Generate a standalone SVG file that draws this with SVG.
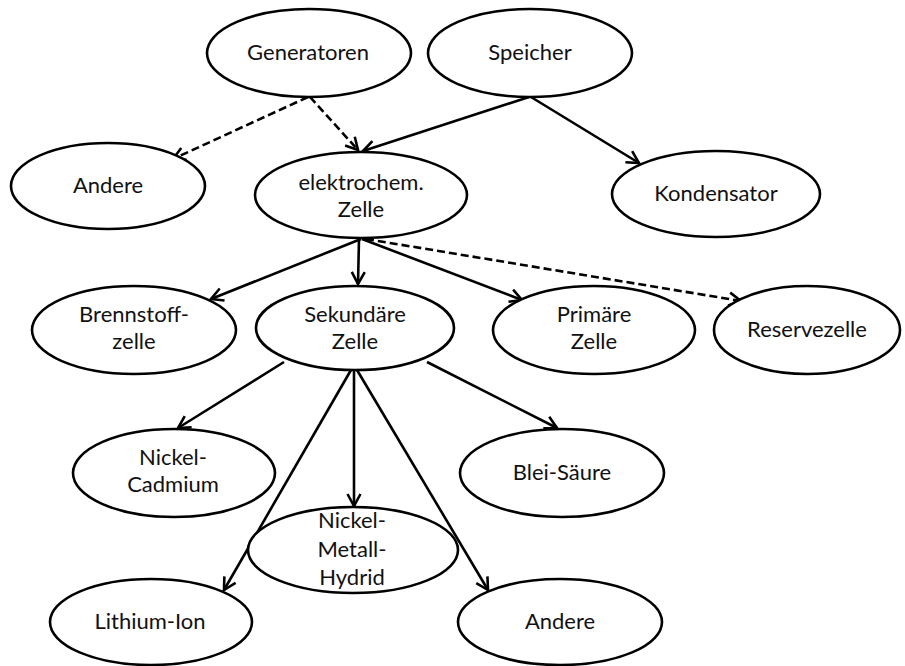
<svg xmlns="http://www.w3.org/2000/svg" width="905" height="666" viewBox="0 0 905 666">
  <style>
    .node ellipse { fill: #ffffff; stroke: #000000; stroke-width: 2.6; }
    .node text { font-family: Lato, "Open Sans", "Liberation Sans", sans-serif; font-size: 22px; fill: #111111; text-anchor: middle; }
    .edge { fill: none; stroke: #000000; stroke-width: 2.6; marker-end: url(#arrow); }
    .dashed { stroke-dasharray: 8 4; }
  </style>
  <defs>
    <marker id="arrow" markerUnits="userSpaceOnUse" viewBox="-14 -8 16 16" refX="0" refY="0" markerWidth="16" markerHeight="16" orient="auto">
      <path d="M-12,-6.5 L0,0 L-12,6.5" fill="none" stroke="#000000" stroke-width="2.6" stroke-linejoin="miter"/>
    </marker>
  </defs>
  <rect width="905" height="666" fill="#ffffff"/>

  <!-- connectors -->
  <g id="connectors">
    <line class="edge dashed" x1="308" y1="97" x2="173" y2="159"/>
    <line class="edge dashed" x1="310" y1="97" x2="358" y2="150"/>
    <line class="edge" x1="529" y1="97" x2="363" y2="151"/>
    <line class="edge" x1="531" y1="97" x2="639" y2="163"/>
    <line class="edge" x1="361" y1="239" x2="211" y2="299"/>
    <line class="edge" x1="359" y1="239" x2="358" y2="284"/>
    <line class="edge" x1="362" y1="239" x2="522" y2="300"/>
    <line class="edge dashed" x1="366" y1="239" x2="741" y2="301"/>
    <line class="edge" x1="284" y1="362" x2="178" y2="428"/>
    <line class="edge" x1="427" y1="362" x2="557" y2="428"/>
    <line class="edge" x1="354" y1="370" x2="354" y2="506"/>
    <line class="edge" x1="351" y1="370" x2="224" y2="590"/>
    <line class="edge" x1="357" y1="370" x2="488" y2="590"/>
  </g>

  <!-- nodes -->
  <g id="generatoren" class="node">
    <ellipse cx="309" cy="53" rx="102" ry="44"/>
    <text x="308" y="60">Generatoren</text>
  </g>
  <g id="speicher" class="node">
    <ellipse cx="530" cy="53" rx="102" ry="44"/>
    <text x="530" y="60">Speicher</text>
  </g>
  <g id="andere-1" class="node">
    <ellipse cx="108" cy="186" rx="97" ry="43"/>
    <text x="108" y="193">Andere</text>
  </g>
  <g id="elektrochem" class="node">
    <ellipse cx="361" cy="195" rx="106" ry="43"/>
    <text x="361" y="190">elektrochem.</text>
    <text x="361" y="217">Zelle</text>
  </g>
  <g id="kondensator" class="node">
    <ellipse cx="716" cy="194" rx="104" ry="43"/>
    <text x="716" y="201">Kondensator</text>
  </g>
  <g id="brennstoffzelle" class="node">
    <ellipse cx="134" cy="330" rx="102" ry="44"/>
    <text x="134" y="322">Brennstoff-</text>
    <text x="134" y="349">zelle</text>
  </g>
  <g id="sekundaere" class="node">
    <ellipse cx="355" cy="328" rx="99" ry="42"/>
    <text x="355" y="322">Sekundäre</text>
    <text x="355" y="349">Zelle</text>
  </g>
  <g id="primaere" class="node">
    <ellipse cx="594" cy="330" rx="101" ry="44"/>
    <text x="594" y="322">Primäre</text>
    <text x="594" y="349">Zelle</text>
  </g>
  <g id="reservezelle" class="node">
    <ellipse cx="807" cy="330" rx="93" ry="44"/>
    <text x="807" y="337">Reservezelle</text>
  </g>
  <g id="nickel-cadmium" class="node">
    <ellipse cx="174" cy="473" rx="101" ry="44"/>
    <text x="173" y="465">Nickel-</text>
    <text x="173" y="492">Cadmium</text>
  </g>
  <g id="blei-saeure" class="node">
    <ellipse cx="562" cy="473" rx="102" ry="44"/>
    <text x="562" y="480">Blei-Säure</text>
  </g>
  <g id="nimh" class="node">
    <ellipse cx="353" cy="550" rx="105" ry="43"/>
    <text x="352" y="528">Nickel-</text>
    <text x="352" y="557">Metall-</text>
    <text x="352" y="585">Hydrid</text>
  </g>
  <g id="lithium-ion" class="node">
    <ellipse cx="151" cy="622" rx="101" ry="43"/>
    <text x="150" y="629">Lithium-Ion</text>
  </g>
  <g id="andere-2" class="node">
    <ellipse cx="560" cy="622" rx="102" ry="43"/>
    <text x="560" y="629">Andere</text>
  </g>
</svg>
